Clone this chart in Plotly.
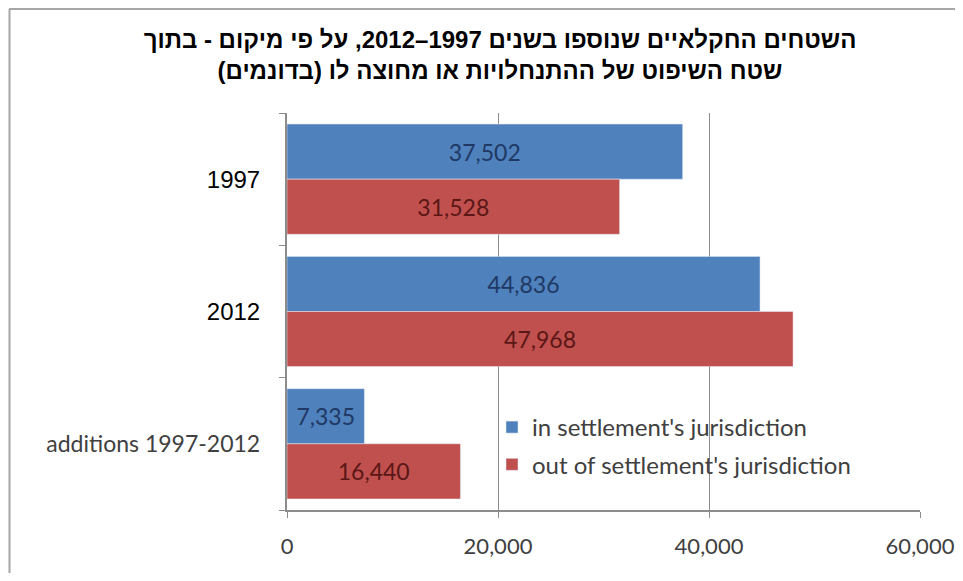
import plotly.graph_objects as go

categories = ["1997", "2012", "additions 1997-2012"]
in_jurisdiction = [37502, 44836, 7335]
out_jurisdiction = [31528, 47968, 16440]
series_names = ["in settlement's jurisdiction", "out of settlement's jurisdiction"]
x_ticks = [0, 20000, 40000, 60000]
x_tick_labels = ["0", "20,000", "40,000", "60,000"]
title_text = ("השטחים החקלאיים שנוספו בשנים 1997–2012, על פי מיקום - בתוך"
              "<br>שטח השיפוט של ההתנחלויות או מחוצה לו (בדונמים)")

# page body has an 8px margin: figure coordinates = screen - 8
W, H = 955, 565
ML, MR, MT, MB = 279, 43, 105, 63
pw = W - ML - MR
ph = H - MT - MB

BLUE = "#4F81BD"
RED = "#C0504D"
GRID = "#8C8C8C"
LBL = "Lato, 'Open Sans', sans-serif"

cat_ticktext = [
    "1997",
    "2012",
    "<span style='font-family:Lato;font-size:23px;color:#404040'>additions 1997-2012</span>",
]

fig = go.Figure()
fig.add_trace(go.Bar(
    y=categories, x=in_jurisdiction, orientation="h", name=series_names[0],
    marker=dict(color=BLUE), legendgroup="a",
    texttemplate="%{x:,}", textposition="inside", insidetextanchor="middle",
    textfont=dict(family=LBL, size=23, color="#1F3864"), hoverinfo="skip",
))
fig.add_trace(go.Bar(
    y=categories, x=out_jurisdiction, orientation="h", name=series_names[1],
    marker=dict(color=RED), legendgroup="b",
    texttemplate="%{x:,}", textposition="inside", insidetextanchor="middle",
    textfont=dict(family=LBL, size=23, color="#5A1716"), hoverinfo="skip",
))

def px_x(px):
    return (px - ML) / pw

def px_y(py):
    return (H - MB - py) / ph

shapes = [
    dict(type="line", xref="paper", yref="paper",
         x0=px_x(1), x1=px_x(W + 5), y0=px_y(1), y1=px_y(1),
         line=dict(color="#A6A6A6", width=2)),
    dict(type="line", xref="paper", yref="paper",
         x0=px_x(1.5), x1=px_x(1.5), y0=px_y(1), y1=px_y(H + 5),
         line=dict(color="#A6A6A6", width=2)),
]

fig.update_layout(
    width=W, height=H,
    margin=dict(l=ML, r=MR, t=MT, b=MB),
    paper_bgcolor="white", plot_bgcolor="white",
    barmode="group", bargap=0.167, bargroupgap=0,
    title=dict(text=title_text, x=492 / W, xanchor="center",
               y=1 - 40 / H, yanchor="top",
               font=dict(family="Liberation Sans, Arial, sans-serif", size=24,
                         color="#000000", weight="bold")),
    showlegend=True,
    legend=dict(x=px_x(484), y=px_y(397), xanchor="left", yanchor="top",
                traceorder="grouped", tracegroupgap=3,
                font=dict(family=LBL, size=24, color="#404040"),
                bgcolor="rgba(0,0,0,0)", itemwidth=30),
    xaxis=dict(range=[0, 60000], tickvals=x_ticks, ticktext=x_tick_labels,
               showgrid=True, gridcolor=GRID, gridwidth=1,
               showline=True, linecolor=GRID, linewidth=2,
               ticks="outside", ticklen=6, tickcolor=GRID,
               ticklabelstandoff=10,
               tickfont=dict(family=LBL, size=22, color="#404040"),
               zeroline=False, fixedrange=True, automargin=False),
    yaxis=dict(autorange="reversed", tickvals=categories, ticktext=cat_ticktext,
               showline=True, linecolor=GRID, linewidth=2,
               ticks="outside", ticklen=6, tickcolor=GRID, tickson="boundaries",
               tickfont=dict(family="Liberation Sans, Arial, sans-serif", size=24, color="#000000"),
               ticklabelstandoff=20,
               showgrid=False, zeroline=False, fixedrange=True, automargin=False),
    shapes=shapes,
)

fig.write_html("out.html")
